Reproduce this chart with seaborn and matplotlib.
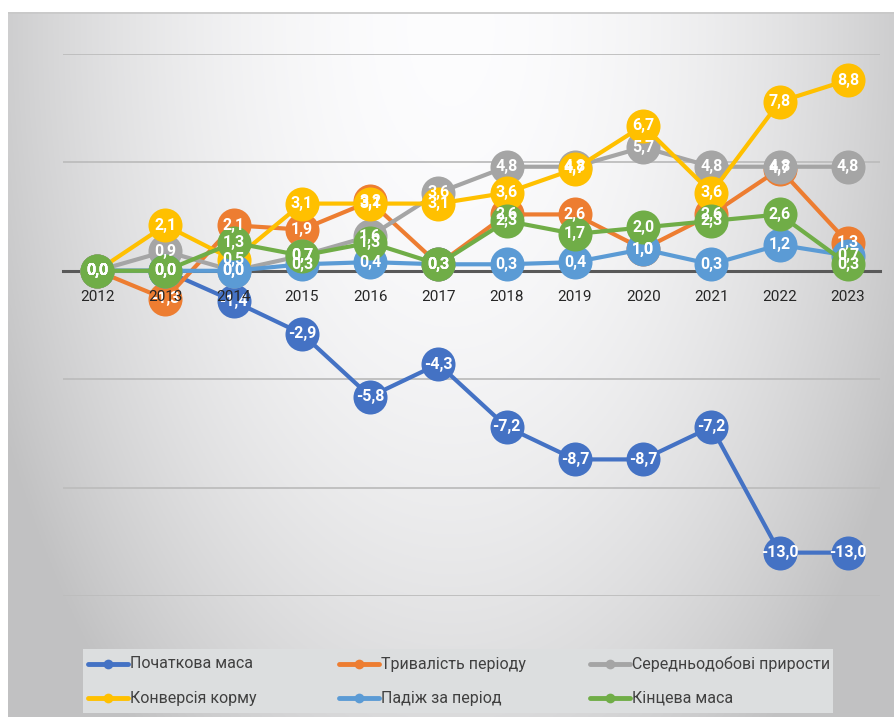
import numpy as np
import pandas as pd
import matplotlib
matplotlib.use("Agg")
import matplotlib.pyplot as plt
from matplotlib.lines import Line2D
import seaborn as sns

years = [2012, 2013, 2014, 2015, 2016, 2017, 2018, 2019, 2020, 2021, 2022, 2023]
series_names = ["Початкова маса", "Тривалість періоду", "Середньодобові прирости",
                "Конверсія корму", "Падіж за період", "Кінцева маса"]
pochatkova = [0.0, 0.0, -1.4, -2.9, -5.8, -4.3, -7.2, -8.7, -8.7, -7.2, -13.0, -13.0]
tryvalist = [0.0, -1.3, 2.1, 1.9, 3.2, 0.3, 2.6, 2.6, 1.0, 2.6, 4.7, 1.3]
pryrosty = [0.0, 0.9, 0.0, 0.7, 1.6, 3.6, 4.8, 4.8, 5.7, 4.8, 4.8, 4.8]
konversiya = [0.0, 2.1, 0.5, 3.1, 3.1, 3.1, 3.6, 4.7, 6.7, 3.6, 7.8, 8.8]
padizh = [0.0, 0.0, 0.0, 0.3, 0.4, 0.3, 0.3, 0.4, 1.0, 0.3, 1.2, 0.7]
kintseva = [0.0, 0.0, 1.3, 0.7, 1.3, 0.3, 2.3, 1.7, 2.0, 2.3, 2.6, 0.3]
colors = ["#4472C4", "#ED7D31", "#A5A5A5", "#FFC000", "#5B9BD5", "#70AD47"]

values = [pochatkova, tryvalist, pryrosty, konversiya, padizh, kintseva]
df = pd.DataFrame([
    {"year": y, "series": name, "value": v}
    for name, vals in zip(series_names, values)
    for y, v in zip(years, vals)
])

sns.set_theme(style="white")
plt.rcParams["font.family"] = ["Roboto", "DejaVu Sans"]

W, H = 894, 717
fig = plt.figure(figsize=(W / 100, H / 100), dpi=100)
fig.patch.set_facecolor("white")

# background gradient panel
bg = fig.add_axes([8 / W, 0, (W - 8) / W, (H - 12) / H], zorder=0)
gx, gy = np.meshgrid(np.linspace(-1, 1, 400), np.linspace(0, 1, 400))
r = np.sqrt((gx / 1.05) ** 2 + ((gy - 0.02) / 1.2) ** 2)
val = 0.99 - 0.2 * np.clip(r, 0, 1.3) ** 2.0
val = np.clip(val, 0.76, 1.0)
bg.imshow(np.dstack([val, val, val * 1.005]).clip(0, 1), aspect="auto",
          extent=[0, 1, 0, 1], origin="upper")
bg.set_xlim(0, 1)
bg.set_ylim(0, 1)
bg.axis("off")
bg.plot([0, 1], [0.999, 0.999], color="#C8C8C8", lw=1.2, transform=bg.transAxes)

# legend box background
bg.add_patch(plt.Rectangle(((83 - 8) / (W - 8), 1 - (713 - 12) / (H - 12)),
                           (833 - 83) / (W - 8), (713 - 649) / (H - 12),
                           transform=bg.transAxes, facecolor="#DCDEDF",
                           edgecolor="none", zorder=2))

ax = fig.add_axes([63 / W, 1 - 596 / H, (880 - 63) / W, (596 - 54) / H], zorder=1)
ax.patch.set_alpha(0)

for gyv in [-15, -10, -5, 5, 10]:
    ax.axhline(gyv, color="#BDBDBD", lw=1.3, zorder=0.2)

sns.lineplot(data=df, x="year", y="value", hue="series", hue_order=series_names,
             palette=colors, marker="o", markersize=24.5, markeredgewidth=0,
             linewidth=3.0, ax=ax, legend=False, sort=False)

for name, vals in zip(series_names, values):
    for y, v in zip(years, vals):
        ax.text(y, v, f"{v:.1f}".replace(".", ","), ha="center", va="center",
                color="white", fontsize=11.5, fontweight="bold", zorder=20)

ax.set_xlim(2011.5, 2023.47)
ax.set_ylim(-15, 10)
ax.set_yticks([])
ax.set_xticks(years)
ax.set_xticklabels([str(y) for y in years])
for lbl in ax.get_xticklabels():
    lbl.set_fontsize(12)
    lbl.set_fontweight("bold")
    lbl.set_color("#595959")
ax.tick_params(axis="x", length=0, pad=14)
for s in ["top", "right", "left"]:
    ax.spines[s].set_visible(False)
ax.spines["bottom"].set_position(("data", 0))
ax.spines["bottom"].set_color("#595959")
ax.spines["bottom"].set_linewidth(2.2)
ax.spines["bottom"].set_zorder(0.5)
ax.xaxis.set_zorder(30)
ax.set_xlabel("")
ax.set_ylabel("")

# legend (manual, Excel-like layout)
col_x = [88, 339, 590]
row_y = [664, 698]
for k, name in enumerate(series_names):
    cx = col_x[k % 3]
    ry = row_y[k // 3]
    yf = 1 - ry / H
    fig.add_artist(Line2D([cx / W, (cx + 40) / W], [yf, yf], color=colors[k], lw=3.5,
                          solid_capstyle="round", transform=fig.transFigure, zorder=5))
    fig.add_artist(Line2D([(cx + 20) / W], [yf], color=colors[k], marker="o",
                          markersize=7, markeredgewidth=0,
                          transform=fig.transFigure, zorder=6))
    fig.text((cx + 42) / W, yf, name, ha="left", va="center",
             fontsize=11.5, color="#404040", zorder=6)

fig.savefig("out.png", dpi=100)
